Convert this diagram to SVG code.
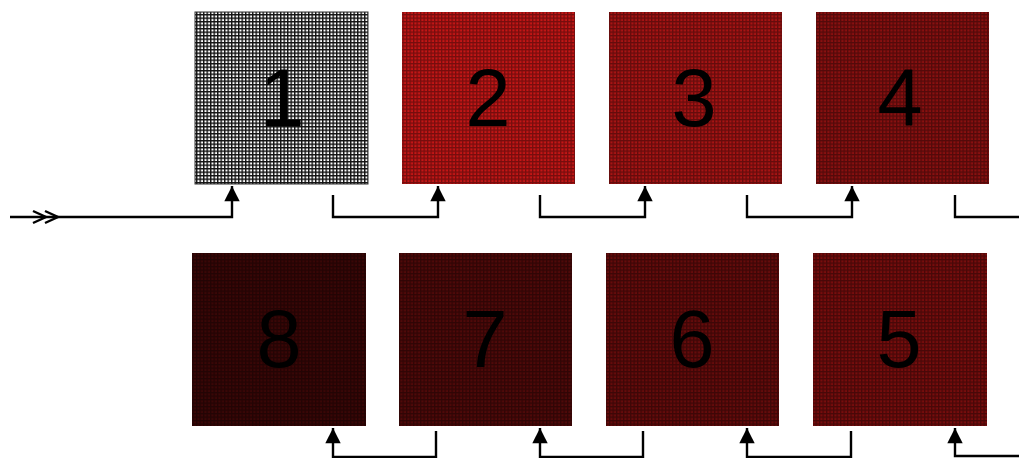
<svg xmlns="http://www.w3.org/2000/svg" width="1019" height="458" viewBox="0 0 1019 458">
<style>
.num{font-family:"Liberation Sans",Arial,sans-serif;font-size:81px;text-anchor:middle;fill:#000}
.conn{fill:none;stroke:#000;stroke-width:2.4}
</style>
<defs>
<pattern id="gw" width="3.5" height="3.5" patternUnits="userSpaceOnUse">
<rect width="3.5" height="3.5" fill="#fff"/>
<rect width="3.5" height="1.4" fill="#111"/>
<rect width="1.4" height="3.5" fill="#111"/>
</pattern>
<pattern id="gr" width="3.5" height="3.5" patternUnits="userSpaceOnUse">
<rect width="3.5" height="1.3" fill="#000" fill-opacity="0.4"/>
<rect y="1.3" width="1.3" height="2.2" fill="#000" fill-opacity="0.4"/>
</pattern>
<marker id="ah" viewBox="0 0 10 10" refX="10" refY="5" markerWidth="6.6" markerHeight="6.4" markerUnits="strokeWidth" orient="auto">
<path d="M0 0L10 5L0 10Z" fill="#000"/>
</marker>
</defs>

<g id="node1"><rect x="195" y="12" width="173" height="172" fill="url(#gw)" stroke="#333" stroke-width="1"/><text class="num" x="282" y="126">1</text></g>
<g id="node2"><rect x="402" y="12" width="173" height="172" fill="#c41616"/><rect x="402" y="12" width="173" height="172" fill="url(#gr)"/><text class="num" x="488" y="126">2</text></g>
<g id="node3"><rect x="609" y="12" width="173" height="172" fill="#a81414"/><rect x="609" y="12" width="173" height="172" fill="url(#gr)"/><text class="num" x="694" y="126">3</text></g>
<g id="node4"><rect x="816" y="12" width="173" height="172" fill="#8a1010"/><rect x="816" y="12" width="173" height="172" fill="url(#gr)"/><text class="num" x="900" y="126">4</text></g>
<g id="node5"><rect x="813" y="253" width="174" height="173" fill="#780d0d"/><rect x="813" y="253" width="174" height="173" fill="url(#gr)"/><text class="num" x="899" y="367">5</text></g>
<g id="node6"><rect x="606" y="253" width="173" height="173" fill="#660b0b"/><rect x="606" y="253" width="173" height="173" fill="url(#gr)"/><text class="num" x="692" y="367">6</text></g>
<g id="node7"><rect x="399" y="253" width="173" height="173" fill="#500909"/><rect x="399" y="253" width="173" height="173" fill="url(#gr)"/><text class="num" x="485" y="367">7</text></g>
<g id="node8"><rect x="192" y="253" width="174" height="173" fill="#3a0606"/><rect x="192" y="253" width="174" height="173" fill="url(#gr)"/><text class="num" x="279" y="367">8</text></g>

<g id="connectors">
<path class="conn" d="M10 217H232V186" marker-end="url(#ah)"/>
<path class="conn" d="M33 211L46 217L33 223M45 211L58 217L45 223"/>
<path class="conn" d="M333 195V217H438V186" marker-end="url(#ah)"/>
<path class="conn" d="M540 195V217H645V186" marker-end="url(#ah)"/>
<path class="conn" d="M747 195V217H852V186" marker-end="url(#ah)"/>
<path class="conn" d="M955 195V217H1019"/>
<path class="conn" d="M1019 456H955V428" marker-end="url(#ah)"/>
<path class="conn" d="M851 431V457H747V428" marker-end="url(#ah)"/>
<path class="conn" d="M643 431V457H540V428" marker-end="url(#ah)"/>
<path class="conn" d="M436 431V457H333V428" marker-end="url(#ah)"/>
</g>
</svg>
